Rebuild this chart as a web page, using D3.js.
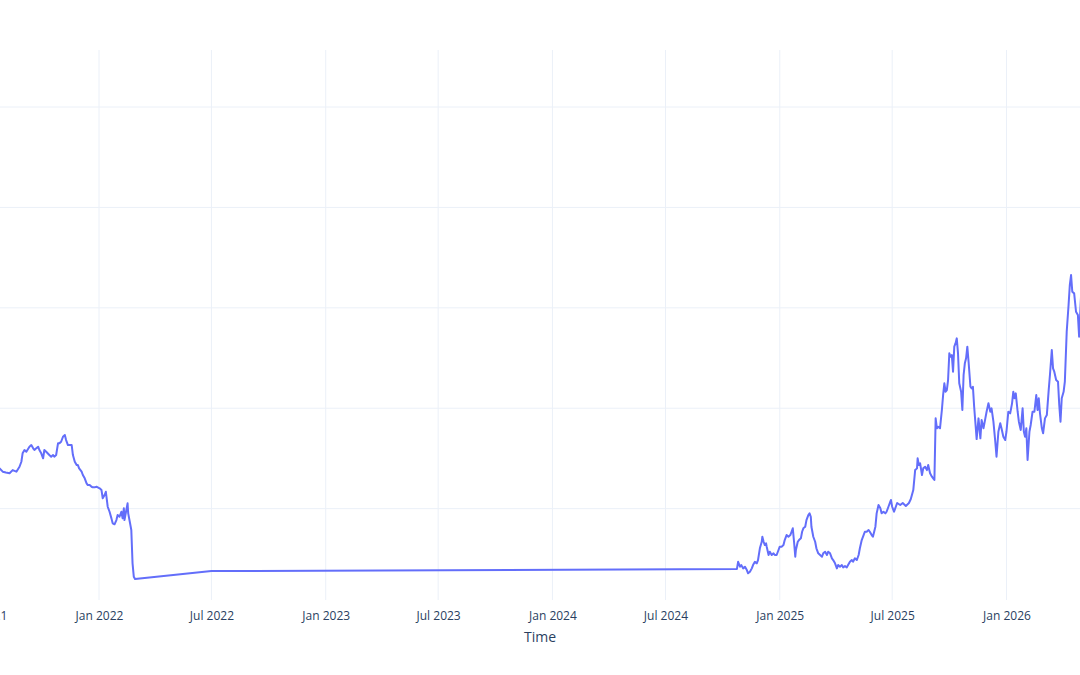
<!DOCTYPE html>
<html>
<head>
<meta charset="utf-8">
<script src="https://cdn.jsdelivr.net/npm/d3@7"></script>
<style>
  body { margin: 0; background: #fff; }
  svg { display: block; font-family: "Open Sans", verdana, arial, sans-serif; }
</style>
</head>
<body>
<div id="chart"></div>
<script>
// series (left part before 0 and right part after 1080 px are cut off)
const dates = [
  "2021-07-17","2021-07-25","2021-07-30","2021-08-04","2021-08-10","2021-08-15","2021-08-21","2021-08-26",
  "2021-08-29","2021-08-31","2021-09-03","2021-09-06","2021-09-11","2021-09-14","2021-09-17","2021-09-19",
  "2021-09-22","2021-09-25","2021-09-27","2021-09-30","2021-10-03","2021-10-05","2021-10-08","2021-10-13",
  "2021-10-16","2021-10-19","2021-10-21","2021-10-24","2021-10-27","2021-10-29","2021-11-01","2021-11-04",
  "2021-11-07","2021-11-09","2021-11-12","2021-11-18","2021-11-20","2021-11-23","2021-11-26","2021-11-28",
  "2021-11-30","2021-12-04","2021-12-06","2021-12-09","2021-12-12","2021-12-14","2021-12-17","2021-12-20",
  "2021-12-22","2021-12-25","2021-12-28","2021-12-30","2022-01-02","2022-01-05","2022-01-07","2022-01-10",
  "2022-01-12","2022-01-13","2022-01-15","2022-01-18","2022-01-21","2022-01-23","2022-01-26","2022-01-29",
  "2022-01-31","2022-02-03","2022-02-06","2022-02-08","2022-02-10","2022-02-11","2022-02-14","2022-02-16",
  "2022-02-17","2022-02-20","2022-02-22","2022-02-24","2022-02-26","2022-02-28","2022-07-01","2024-10-24",
  "2024-10-26","2024-10-29","2024-10-31","2024-11-03","2024-11-06","2024-11-09","2024-11-11","2024-11-14",
  "2024-11-17","2024-11-19","2024-11-22","2024-11-25","2024-11-27","2024-11-30","2024-12-03","2024-12-04",
  "2024-12-06","2024-12-08","2024-12-10","2024-12-11","2024-12-14","2024-12-16","2024-12-19","2024-12-22",
  "2024-12-24","2024-12-27","2024-12-30","2025-01-01","2025-01-04","2025-01-07","2025-01-09","2025-01-12",
  "2025-01-15","2025-01-18","2025-01-20","2025-01-22","2025-01-24","2025-01-26","2025-01-27","2025-01-30",
  "2025-02-01","2025-02-04","2025-02-06","2025-02-08","2025-02-11","2025-02-13","2025-02-16","2025-02-18",
  "2025-02-20","2025-02-21","2025-02-24","2025-02-27","2025-03-01","2025-03-04","2025-03-07","2025-03-10",
  "2025-03-12","2025-03-15","2025-03-18","2025-03-20","2025-03-23","2025-03-26","2025-03-28","2025-03-31",
  "2025-04-03","2025-04-05","2025-04-08","2025-04-11","2025-04-13","2025-04-16","2025-04-19","2025-04-21",
  "2025-04-24","2025-04-27","2025-04-29","2025-05-02","2025-05-05","2025-05-08","2025-05-10","2025-05-13",
  "2025-05-16","2025-05-18","2025-05-21","2025-05-24","2025-05-26","2025-05-29","2025-05-31","2025-06-04",
  "2025-06-06","2025-06-09","2025-06-12","2025-06-14","2025-06-17","2025-06-20","2025-06-22","2025-06-25",
  "2025-06-28","2025-06-29","2025-07-01","2025-07-04","2025-07-09","2025-07-14","2025-07-18","2025-07-23",
  "2025-07-28","2025-07-31","2025-08-04","2025-08-07","2025-08-10","2025-08-11","2025-08-13","2025-08-15",
  "2025-08-18","2025-08-20","2025-08-23","2025-08-26","2025-08-28","2025-08-31","2025-09-03","2025-09-05",
  "2025-09-07","2025-09-09","2025-09-11","2025-09-13","2025-09-16","2025-09-19","2025-09-21","2025-09-23",
  "2025-09-25","2025-09-27","2025-09-29","2025-10-01","2025-10-03","2025-10-05","2025-10-07","2025-10-09",
  "2025-10-11","2025-10-13","2025-10-15","2025-10-17","2025-10-20","2025-10-22","2025-10-24","2025-10-26",
  "2025-10-28","2025-10-30","2025-11-01","2025-11-04","2025-11-06","2025-11-08","2025-11-10","2025-11-14",
  "2025-11-17","2025-11-20","2025-11-22","2025-11-25","2025-11-28","2025-11-30","2025-12-03","2025-12-06",
  "2025-12-08","2025-12-11","2025-12-14","2025-12-16","2025-12-19","2025-12-22","2025-12-24","2025-12-27",
  "2025-12-30","2026-01-01","2026-01-04","2026-01-07","2026-01-10","2026-01-12","2026-01-14","2026-01-16",
  "2026-01-19","2026-01-21","2026-01-24","2026-01-27","2026-01-29","2026-01-31","2026-02-02","2026-02-04",
  "2026-02-07","2026-02-09","2026-02-12","2026-02-15","2026-02-18","2026-02-20","2026-02-22","2026-02-24",
  "2026-02-27","2026-03-01","2026-03-04","2026-03-07","2026-03-10","2026-03-12","2026-03-15","2026-03-17",
  "2026-03-19","2026-03-22","2026-03-25","2026-03-27","2026-03-29","2026-03-31","2026-04-03","2026-04-05",
  "2026-04-08","2026-04-11","2026-04-13","2026-04-15","2026-04-17","2026-04-20","2026-04-23","2026-04-26",
  "2026-04-28","2026-05-01","2026-05-04"
];

const values = [
  1.394,1.401,1.368,1.360,1.352,1.384,1.368,1.417,
  1.467,1.551,1.584,1.567,1.617,1.633,1.601,1.584,
  1.601,1.617,1.584,1.551,1.501,1.584,1.567,1.534,
  1.517,1.534,1.517,1.534,1.650,1.650,1.666,1.716,
  1.733,1.683,1.633,1.633,1.534,1.467,1.434,1.434,
  1.401,1.368,1.335,1.302,1.252,1.235,1.235,1.218,
  1.212,1.212,1.218,1.212,1.202,1.185,1.103,1.135,
  1.168,1.119,1.019,0.969,0.903,0.854,0.844,0.886,
  0.936,0.919,0.969,0.903,1.003,0.886,0.986,1.053,
  0.953,0.854,0.787,0.455,0.322,0.299,0.378,0.398,
  0.471,0.421,0.438,0.405,0.421,0.388,0.356,0.372,
  0.405,0.438,0.471,0.455,0.488,0.605,0.670,0.720,
  0.670,0.637,0.654,0.621,0.538,0.571,0.538,0.555,
  0.538,0.538,0.588,0.621,0.621,0.637,0.687,0.737,
  0.720,0.737,0.770,0.804,0.670,0.521,0.588,0.670,
  0.687,0.704,0.770,0.804,0.820,0.886,0.936,0.953,
  0.919,0.820,0.720,0.670,0.605,0.555,0.538,0.521,
  0.555,0.571,0.538,0.571,0.555,0.505,0.488,0.455,
  0.405,0.438,0.421,0.438,0.415,0.428,0.415,0.438,
  0.471,0.488,0.471,0.505,0.488,0.538,0.605,0.687,
  0.737,0.770,0.770,0.787,0.770,0.737,0.720,0.820,
  0.953,1.036,1.003,0.953,0.969,0.953,0.969,1.019,
  1.069,1.086,1.019,0.969,1.056,1.036,1.056,1.026,
  1.056,1.096,1.185,1.384,1.401,1.501,1.434,1.451,
  1.335,1.401,1.417,1.384,1.434,1.352,1.318,1.302,
  1.285,1.899,1.800,1.816,1.800,1.982,2.131,2.248,
  2.164,2.181,2.281,2.547,2.513,2.530,2.364,2.613,
  2.646,2.696,2.547,2.248,2.164,1.982,2.331,2.447,
  2.497,2.613,2.463,2.214,2.198,2.214,2.015,1.693,
  1.899,1.700,1.882,1.800,1.899,1.965,2.049,1.965,
  1.999,1.866,1.666,1.517,1.766,1.850,1.800,1.716,
  1.683,1.766,1.965,1.949,2.049,2.164,2.099,2.148,
  1.965,1.866,1.783,1.999,1.766,1.716,1.800,1.484,
  1.766,1.833,1.965,1.965,2.131,1.982,2.099,1.949,
  1.800,1.750,1.899,1.932,2.181,2.331,2.580,2.397,
  2.364,2.281,2.264,2.032,1.866,2.099,2.164,2.264,
  2.762,3.028,3.227,3.327,3.160,3.144,2.961,2.928,
  2.712,3.108,3.078
];

const x_domain = ["2021-04-20", "2026-08-04"];
const y_domain = [0.09, 5.568];
const y_ticks = [1, 2, 3, 4, 5];
const x_title = "Time";

const width = 1080, height = 675;
// the plot area runs past both edges of the window, as in the picture
const plot = {left: -60, right: 1140, top: 50, bottom: 600};
const font_color = "#2a3f5f";
const grid_color = "#ebf0f8";

const parse = d3.timeParse("%Y-%m-%d");
const dat = dates.map((d, i) => ({date: parse(d), value: values[i]}));

const svg = d3.select("#chart").append("svg")
  .attr("width", width)
  .attr("height", height);

const x = d3.scaleTime()
  .domain(x_domain.map(parse))
  .range([plot.left, plot.right]);

const y = d3.scaleLinear()
  .domain(y_domain)
  .range([plot.bottom, plot.top]);

// half-year ticks, only up to the last data point
const last_date = dat[dat.length - 1].date;
const x_ticks = x.ticks(d3.timeMonth.every(6)).filter(d => d <= last_date);

// grid lines
svg.append("g")
  .selectAll("line.vgrid")
  .data(x_ticks)
  .enter().append("line")
    .attr("x1", d => x(d)).attr("x2", d => x(d))
    .attr("y1", plot.top).attr("y2", plot.bottom)
    .attr("stroke", grid_color)
    .attr("stroke-width", 1);

svg.append("g")
  .selectAll("line.hgrid")
  .data(y_ticks)
  .enter().append("line")
    .attr("x1", plot.left).attr("x2", plot.right)
    .attr("y1", d => y(d)).attr("y2", d => y(d))
    .attr("stroke", grid_color)
    .attr("stroke-width", 1);

// x axis labels
const x_axis = svg.append("g")
  .attr("transform", `translate(0,${plot.bottom})`)
  .call(d3.axisBottom(x)
    .tickValues(x_ticks)
    .tickFormat(d3.timeFormat("%b %Y"))
    .tickSize(0)
    .tickPadding(11));
x_axis.select(".domain").remove();
x_axis.selectAll("text")
  .attr("fill", font_color)
  .style("font-size", "12px")
  .style("font-family", '"Open Sans", verdana, arial, sans-serif');

// axis title
svg.append("text")
  .attr("x", (plot.left + plot.right) / 2)
  .attr("y", 642)
  .attr("text-anchor", "middle")
  .attr("fill", font_color)
  .style("font-size", "14px")
  .text(x_title);

// the line
const line = d3.line()
  .x(d => x(d.date))
  .y(d => y(d.value));

svg.append("path")
  .datum(dat)
  .attr("d", line)
  .attr("fill", "none")
  .attr("stroke", "#636efa")
  .attr("stroke-width", 2)
  .attr("stroke-linejoin", "round");
</script>
</body>
</html>
